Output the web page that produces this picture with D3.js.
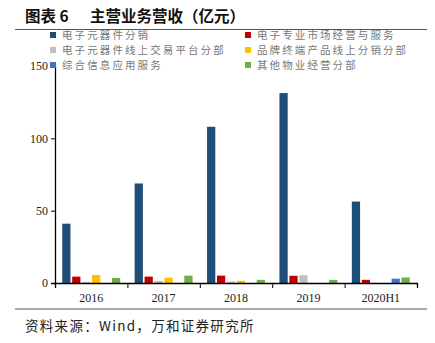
<!DOCTYPE html>
<html><head><meta charset="utf-8">
<script src="https://cdn.jsdelivr.net/npm/d3@7"></script>
<style>body{margin:0;background:#fff}</style>
</head><body><svg id="c" width="435" height="343"></svg>
<script>
const categories = ["2016","2017","2018","2019","2020H1"];
const seriesNames = ["电子元器件分销","电子专业市场经营与服务","电子元器件线上交易平台分部","品牌终端产品线上分销分部","综合信息应用服务","其他物业经营分部"];
const colors = ["#1F4E79","#C00000","#BFBFBF","#FFC000","#4472C4","#70AD47"];
const s1 = [41.0, 68.8, 108.0, 131.3, 56.3];
const s2 = [4.4, 4.4, 5.1, 5.0, 2.2];
const s3 = [0.7, 1.4, 1.0, 5.3, 0];
const s4 = [5.6, 3.7, 1.5, 0, 0];
const s5 = [0, 0, 0, 0, 3.0];
const s6 = [3.5, 5.1, 2.2, 2.2, 3.8];
const seriesValues = [s1,s2,s3,s4,s5,s6];
const yTicks = [0,50,100,150];

const svg = d3.select("#c");
const serif = "'Liberation Serif','DejaVu Serif',serif";
const cjk = "'Noto Sans CJK SC',sans-serif";

// title
svg.append("text").attr("x",25).attr("y",22).attr("font-family",cjk).attr("font-weight","bold")
  .attr("font-size",15.5).attr("fill","#111").text("图表 6");
svg.append("text").attr("x",90).attr("y",22).attr("font-family",cjk).attr("font-weight","bold")
  .attr("font-size",15.5).attr("fill","#111").text("主营业务营收（亿元）");
svg.append("line").attr("x1",15).attr("x2",427).attr("y1",29.5).attr("y2",29.5).attr("stroke","#555").attr("stroke-width",1);

const L=55, R=417, T=66, B=283;
const x0 = d3.scaleBand().domain(categories).range([L,R]).paddingInner(0.2).paddingOuter(0.1);
const x1 = d3.scaleBand().domain(d3.range(6)).range([0,x0.bandwidth()]).paddingInner(0.17);
const y = d3.scaleLinear().domain([0,150]).range([B,T]);

const g = svg.append("g");
seriesValues.forEach((vals,si)=>{
  g.selectAll(null).data(vals).enter().append("rect")
    .attr("x",(d,i)=>x0(categories[i])+x1(si))
    .attr("width",x1.bandwidth())
    .attr("y",d=>y(d))
    .attr("height",d=>B-y(d))
    .attr("fill",colors[si]);
});

// y axis
const ya = svg.append("g").attr("transform",`translate(${L},0)`)
  .call(d3.axisLeft(y).tickValues(yTicks).tickSize(4).tickPadding(3));
ya.select(".domain").attr("stroke","#000").attr("stroke-width",1.3);
ya.selectAll("text").attr("font-family",serif).attr("font-size",12).attr("fill","#222");

// x axis with ticks at boundaries
const xb = d3.scaleLinear().domain([0,5]).range([L,R]);
const xa = svg.append("g").attr("transform",`translate(0,${B})`)
  .call(d3.axisBottom(xb).ticks(5).tickSize(5).tickFormat(""));
xa.select(".domain").attr("stroke","#000").attr("stroke-width",1.3);
categories.forEach((c,i)=>{
  svg.append("text").attr("x",(xb(i)+xb(i+1))/2).attr("y",302).attr("text-anchor","middle")
    .attr("font-family",serif).attr("font-size",12).attr("fill","#222").text(c);
});

// legend
const legPos = [[50,35],[245,35],[50,50],[245,50],[50,65],[245,65]];
seriesNames.forEach((n,i)=>{
  const [lx,ly]=legPos[i];
  svg.append("rect").attr("x",lx).attr("y",ly-3).attr("width",6).attr("height",6).attr("fill",colors[i]);
  svg.append("text").attr("x",lx+12).attr("y",ly+4).attr("font-family",cjk)
    .attr("font-size",10.5).attr("letter-spacing",2.1).attr("fill","#777").text(n);
});

svg.append("line").attr("x1",15).attr("x2",427).attr("y1",309).attr("y2",309).attr("stroke","#555").attr("stroke-width",1);
svg.append("text").attr("x",25).attr("y",331).attr("font-family",cjk).attr("font-size",13.5)
  .attr("letter-spacing",1.3).attr("fill","#222")
  .text("资料来源：Wind，万和证券研究所");
</script></body></html>
